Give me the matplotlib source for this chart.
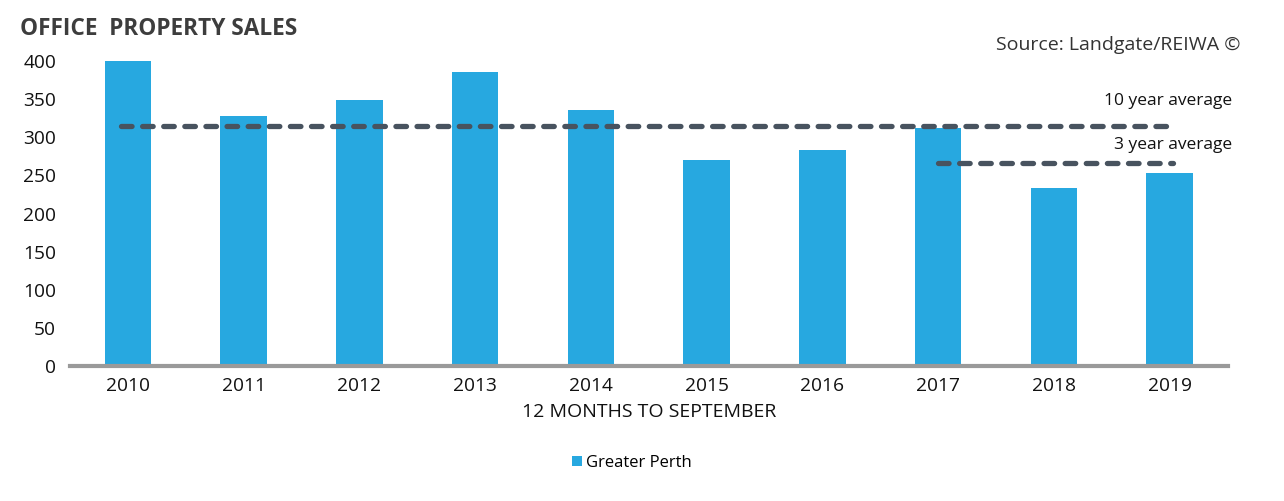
import numpy as np
import matplotlib.pyplot as plt
from matplotlib.patches import Patch

years = ['2010', '2011', '2012', '2013', '2014', '2015', '2016', '2017', '2018', '2019']
sales = [400, 328, 349, 386, 336, 270, 283, 312, 233, 253]

avg10 = np.mean(sales)
avg3 = np.mean(sales[-3:])

plt.rcParams['font.family'] = ['Open Sans', 'DejaVu Sans']

fig = plt.figure(figsize=(12.84, 5.01), dpi=100)
ax = fig.add_axes([0.0545, 0.2695, 0.9015, 0.6085])

x = np.arange(len(years))
bar_color = '#27a8e0'
ax.bar(x, sales, width=0.4, color=bar_color, zorder=2)

line_color = '#48535f'
ax.plot([-0.06, 9.03], [avg10, avg10], color=line_color, lw=3.8,
        ls=(0, (2, 2)), dash_capstyle='round', zorder=3)
ax.plot([7.0, 9.03], [avg3, avg3], color=line_color, lw=3.8,
        ls=(0, (2, 2)), dash_capstyle='round', zorder=3)

ax.set_xlim(-0.5, 9.5)
ax.set_ylim(0, 400)
ax.set_yticks(range(0, 401, 50))
ax.set_xticks(x)
ax.set_xticklabels(years)
ax.tick_params(axis='both', length=0, labelsize=13.8, colors='#111111')
ax.tick_params(axis='x', pad=8)
ax.tick_params(axis='y', pad=10)
for s in ['top', 'right', 'left']:
    ax.spines[s].set_visible(False)
ax.spines['bottom'].set_color('#9a9a9a')
ax.spines['bottom'].set_linewidth(3)
ax.spines['bottom'].set_zorder(4)

ax.set_xlabel('12 MONTHS TO SEPTEMBER', fontsize=14, color='#111111', labelpad=6)

fig.text(1232 / 1284, 1 - 101 / 501, '10 year average', ha='right', va='center',
         fontsize=12.5, color='#111111')
fig.text(1232 / 1284, 1 - 145 / 501, '3 year average', ha='right', va='center',
         fontsize=12.5, color='#111111')

fig.text(20 / 1284, 1 - 29 / 501, 'OFFICE  PROPERTY SALES', ha='left', va='center',
         fontsize=16.3, fontweight='bold', color='#3d3d3d')
fig.text(1240 / 1284, 1 - 45 / 501, 'Source: Landgate/REIWA \u00a9', ha='right', va='center',
         fontsize=14, color='#333333')

handles = [Patch(facecolor=bar_color, label='Greater Perth')]
fig.legend(handles=handles, loc='center', bbox_to_anchor=(632 / 1284, 1 - 463 / 501),
           frameon=False, fontsize=12, handlelength=0.6, handleheight=0.6,
           handletextpad=0.2)

fig.savefig('out.png', dpi=100)
